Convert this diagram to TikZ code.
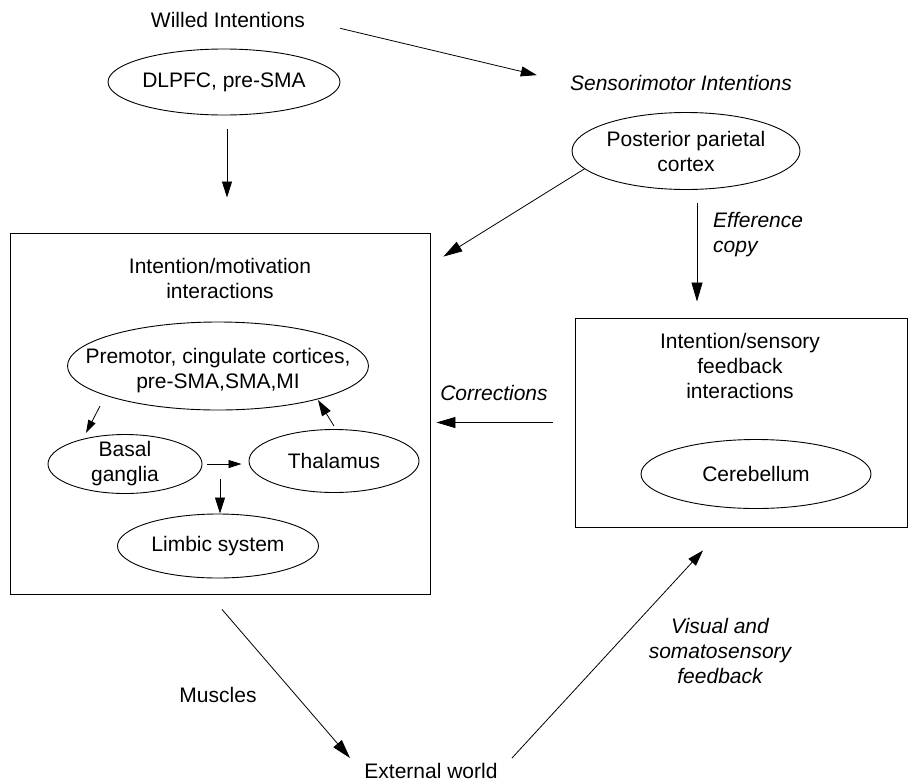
\documentclass[tikz,border=0pt]{standalone}
\usepackage{fontspec}
\setmainfont{Liberation Sans}
\usetikzlibrary{shapes.geometric,arrows.meta}
\begin{document}
\begin{tikzpicture}[x=1pt,y=-1pt,
  every node/.style={font=\fontsize{21}{25}\selectfont, inner sep=0pt, align=center},
  oval/.style={ellipse, draw, line width=0.9pt},
  box/.style={rectangle, draw, line width=0.9pt},
  arr/.style={line width=0.8pt, -{Triangle[length=19pt,width=11pt]}},
  marr/.style={line width=0.8pt, -{Triangle[length=16pt,width=10pt]}},
  sarr/.style={line width=0.8pt, -{Triangle[length=13pt,width=8pt]}},
  lab/.style={font=\fontsize{21}{25}\selectfont\itshape}
]
\path[use as bounding box] (0,0) rectangle (912,782);

% top level
\node (willed) at (228,20) {Willed Intentions};
\node[lab] (sensi) at (681,83) {Sensorimotor Intentions};
\node[oval, minimum width=232pt, minimum height=66pt, label=center:{DLPFC, pre-SMA}] (dlpfc) at (224,82) {};
\node[oval, minimum width=228pt, minimum height=77pt, label=center:{Posterior parietal\\cortex}] (ppc) at (686,151) {};

% left box
\node[box, minimum width=420pt, minimum height=361pt] (lbox) at (220,413.5) {};
\node (ltitle) at (220,278) {Intention/motivation\\interactions};
\node[oval, minimum width=301pt, minimum height=88pt, label={[yshift=-5pt]center:{Premotor, cingulate cortices,\\pre-SMA,SMA,MI}}] (prem) at (218,366) {};
\node[oval, minimum width=154pt, minimum height=59pt, label=center:{Basal\\ganglia}] (basal) at (125,464) {};
\node[oval, minimum width=170pt, minimum height=63pt, label=center:{Thalamus}] (thal) at (334,461) {};
\node[oval, minimum width=201pt, minimum height=64pt, label=center:{Limbic system}] (limbic) at (218,546) {};
\coordinate (bl) at (basal.east -| limbic.north);

% right box
\node[box, minimum width=332pt, minimum height=209pt] (rbox) at (741,422.5) {};
\node (rtitle) at (740,366) {Intention/sensory\\feedback\\interactions};
\node[oval, minimum width=230pt, minimum height=69pt, label=center:{Cerebellum}] (cereb) at (756,474) {};

% labels
\node[lab, anchor=west, align=left] (eff) at (713,234.5) {Efference\\copy};
\node[lab] (corr) at (494,393) {Corrections};
\node (muscles) at (218,695) {Muscles};
\node (ext) at (431,771) {External world};
\node[lab] (vis) at (720,651) {Visual and\\somatosensory\\feedback};

% connectors
\draw[marr, shorten <=36pt, shorten >=34pt] (willed.east) -- (sensi.west);
\draw[marr, shorten <=14pt, shorten >=35pt] ([xshift=3pt]dlpfc.south) -- ([xshift=3pt]dlpfc.south |- lbox.north);
\draw[arr] (ppc.190) -- ([shift={(13,24)}]lbox.north east);
\draw[arr, shorten <=13pt, shorten >=16pt] ([xshift=11pt]ppc.south) -- ([xshift=11pt]ppc.south |- rbox.north);
\draw[arr, shorten <=22pt, shorten >=6pt] (rbox.west) -- (rbox.west -| lbox.east);
\draw[sarr] ([shift={(-118,40)}]prem.center) -- ([shift={(-39,-31)}]basal.center);
\draw[sarr, shorten <=5pt, shorten >=7pt] (basal.east) -- (basal.east -| thal.west);
\draw[marr] ([shift={(0,-3)}]thal.north) -- ([shift={(100,34)}]prem.center);
\draw[marr] ([shift={(2,15)}]bl) -- ([xshift=2pt]limbic.north);
\draw[arr] ([shift={(2,15)}]lbox.south) -- ([shift={(-81,-13)}]ext.center);
\draw[marr] ([shift={(81,-13)}]ext.center) -- ([shift={(-38,23)}]rbox.south);
\end{tikzpicture}
\end{document}
